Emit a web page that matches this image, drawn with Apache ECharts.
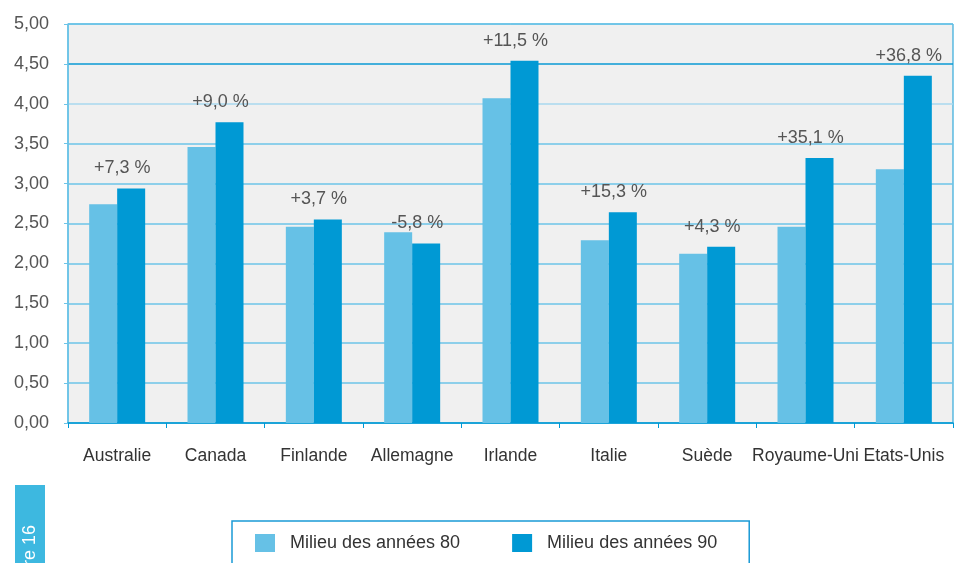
<!DOCTYPE html>
<html>
<head>
<meta charset="utf-8">
<script src="https://cdn.jsdelivr.net/npm/echarts@6/dist/echarts.min.js"></script>
<style>
  html, body { margin: 0; padding: 0; background: #fff; }
  #chart { width: 965px; height: 563px; }
</style>
</head>
<body>
<div id="chart"></div>
<script>
// pays
var countries = ['Australie', 'Canada', 'Finlande', 'Allemagne', 'Irlande', 'Italie', 'Suède', 'Royaume-Uni', 'Etats-Unis']
// valeurs
var mid80 = [2.74, 3.46, 2.46, 2.39, 4.07, 2.29, 2.12, 2.46, 3.18]
var mid90 = [2.94, 3.77, 2.55, 2.25, 4.54, 2.64, 2.21, 3.32, 4.35]
var changeLabels = ['+7,3 %', '+9,0 %', '+3,7 %', '-5,8 %', '+11,5 %', '+15,3 %', '+4,3 %', '+35,1 %', '+36,8 %']
var seriesNames = ['Milieu des années 80', 'Milieu des années 90']

var myChart = echarts.init(document.getElementById('chart'))
var font = 'Liberation Sans, Arial, sans-serif'

// couleurs des lignes de grille (0 -> 5)
var splitColors = ['#6cc4e8', '#6cc4e8', '#6cc4e8', '#6cc4e8', '#6cc4e8', '#6cc4e8', '#6cc4e8', '#6cc4e8', '#a9d9ef', '#0a9ad5', '#6cc4e8']

var option = {
  color: ['#66c1e6', '#0099d4'],
  textStyle: { fontFamily: font },
  grid: {
    left: 68,
    right: 12,
    top: 24,
    bottom: 140,
    show: true,
    backgroundColor: '#f0f0f0',
    borderColor: '#0a9ad5',
    borderWidth: 1
  },
  legend: {
    left: 232,
    top: 521,
    orient: 'horizontal',
    itemWidth: 20,
    itemHeight: 18,
    itemGap: 52,
    padding: [13, 32, 13, 23],
    borderColor: '#1a9ad6',
    borderWidth: 1.5,
    icon: 'rect',
    textStyle: { color: '#333', fontSize: 18, fontFamily: font, padding: [0, 0, 0, 10] },
    data: seriesNames
  },
  xAxis: {
    type: 'category',
    data: countries,
    axisLine: { lineStyle: { color: '#0099d4', width: 1.5 } },
    axisTick: { show: true, length: 5, lineStyle: { color: '#0099d4' } },
    axisLabel: { color: '#333', fontSize: 17.5, margin: 24, interval: 0 }
  },
  yAxis: {
    type: 'value',
    min: 0,
    max: 5,
    interval: 0.5,
    axisLine: { show: true, lineStyle: { color: '#6cc4e8', width: 1.5 } },
    axisTick: { show: true, length: 4, lineStyle: { color: '#6cc4e8' } },
    axisLabel: {
      color: '#555',
      fontSize: 18,
      margin: 19,
      formatter: function (v) { return v.toFixed(2).replace('.', ',') }
    },
    splitLine: { lineStyle: { color: splitColors, width: 1.5 } }
  },
  series: [
    {
      name: seriesNames[0],
      type: 'bar',
      data: mid80,
      barWidth: 28,
      barGap: '0%',
      barCategoryGap: '43%'
    },
    {
      name: seriesNames[1],
      type: 'bar',
      data: mid90,
      barWidth: 28,
      barGap: '0%',
      barCategoryGap: '43%',
      label: {
        show: true,
        position: 'top',
        distance: 11,
        offset: [-9, 0],
        color: '#555',
        fontSize: 18,
        formatter: function (p) { return changeLabels[p.dataIndex] }
      }
    }
  ],
  graphic: [
    {
      type: 'rect',
      left: 15,
      top: 485,
      shape: { width: 30, height: 80 },
      style: { fill: '#3db8e0' }
    },
    {
      type: 'text',
      x: 21,
      y: 566,
      rotation: Math.PI / 2,
      style: { text: 're 16', fill: '#fff', font: '18px ' + font, verticalAlign: 'top' }
    }
  ]
}
myChart.setOption(option)
window.addEventListener('resize', function () {
  myChart.resize()
})
</script>
</body>
</html>
